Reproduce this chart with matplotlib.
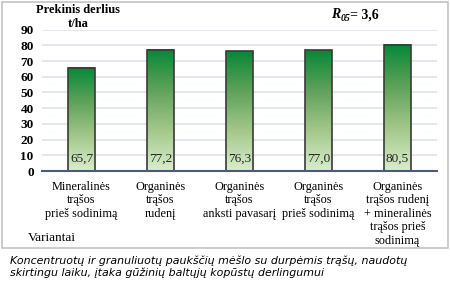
import numpy as np
import matplotlib
matplotlib.use('Agg')
import matplotlib.pyplot as plt
from matplotlib.colors import LinearSegmentedColormap
from matplotlib.patches import Rectangle

categories = ['Mineralinės\ntrąšos\nprieš sodinimą',
              'Organinės\ntrąšos\nrudenį',
              'Organinės\ntrąšos\nanksti pavasarį',
              'Organinės\ntrąšos\nprieš sodinimą',
              'Organinės\ntrąšos rudenį\n+ mineralinės\ntrąšos prieš\nsodinimą']
values = [65.7, 77.2, 76.3, 77.0, 80.5]
value_labels = ['65,7', '77,2', '76,3', '77,0', '80,5']
yticks = [0, 10, 20, 30, 40, 50, 60, 70, 80, 90]
caption = ('Koncentruotų ir granuliuotų paukščių mėšlo su durpėmis trąšų, naudotų\n'
           'skirtingu laiku, įtaka gūžinių baltųjų kopūstų derlingumui')

W, H = 450, 294
fig = plt.figure(figsize=(W / 100, H / 100), dpi=100)
serif = 'Liberation Serif'

ax = fig.add_axes([42 / W, 1 - 171 / H, (437 - 42) / W, (171 - 29.7) / H])

cmap = LinearSegmentedColormap.from_list('g', ['#d8eecd', '#a3c88a', '#5fa25a', '#068837'])
grad = np.linspace(0, 1, 256).reshape(-1, 1)
bw = 0.33
for i, v in enumerate(values):
    ax.imshow(grad, cmap=cmap, origin='lower', aspect='auto',
              extent=[i - bw / 2, i + bw / 2, 0, v], zorder=3)
    ax.bar(i, v, width=bw, facecolor='none', edgecolor='#3a3a3a', linewidth=1.2, zorder=4)
    ax.text(i, 7.5, value_labels[i], ha='center', va='center', fontsize=9.5,
            family=serif, color='#222222', zorder=5)
ax.set_xlim(-0.5, len(values) - 0.5)
ax.set_ylim(0, 90)

ax.set_yticks(yticks)
ax.set_yticklabels([str(t) for t in yticks], family=serif, fontsize=9.5, fontweight='bold')
ax.yaxis.grid(True, color='#dfe3ee', linewidth=1.2, zorder=0)
ax.set_axisbelow(True)
ax.tick_params(axis='y', length=0, pad=6)
ax.set_xticks(range(len(values)))
ax.set_xticklabels(categories, family=serif, fontsize=8.8, linespacing=1.17)
ax.tick_params(axis='x', length=0, pad=7)
for s in ['top', 'right', 'left']:
    ax.spines[s].set_visible(False)
ax.spines['bottom'].set_color('#4a5a78')
ax.spines['bottom'].set_linewidth(1.5)
ax.spines['bottom'].set_zorder(6)

fig.text(78 / W, 1 - 10 / H, 'Prekinis derlius', ha='center', va='center',
         family=serif, fontsize=9, fontweight='bold')
fig.text(78 / W, 1 - 24 / H, 't/ha', ha='center', va='center',
         family=serif, fontsize=9, fontweight='bold')

fig.text(331 / W, 1 - 15 / H, 'R', ha='left', va='center', family=serif,
         fontsize=10, fontweight='bold', style='italic')
fig.text(341 / W, 1 - 18.5 / H, '05', ha='left', va='center', family=serif,
         fontsize=7, fontweight='bold', style='italic')
fig.text(350 / W, 1 - 15 / H, '= 3,6', ha='left', va='center', family=serif,
         fontsize=10, fontweight='bold')

fig.text(28 / W, 1 - 238 / H, 'Variantai', ha='left', va='center', family=serif, fontsize=9.5)

fig.patches.append(Rectangle((1.5 / W, 1 - 248 / H), 446 / W, 246.5 / H,
                             transform=fig.transFigure, fill=False,
                             edgecolor='#c4c4c4', linewidth=1.2))

fig.text(10 / W, 1 - 255 / H, caption, ha='left', va='top', family='DejaVu Sans',
         fontsize=7.9, style='italic', linespacing=1.2)

fig.savefig('out.png', dpi=100)
